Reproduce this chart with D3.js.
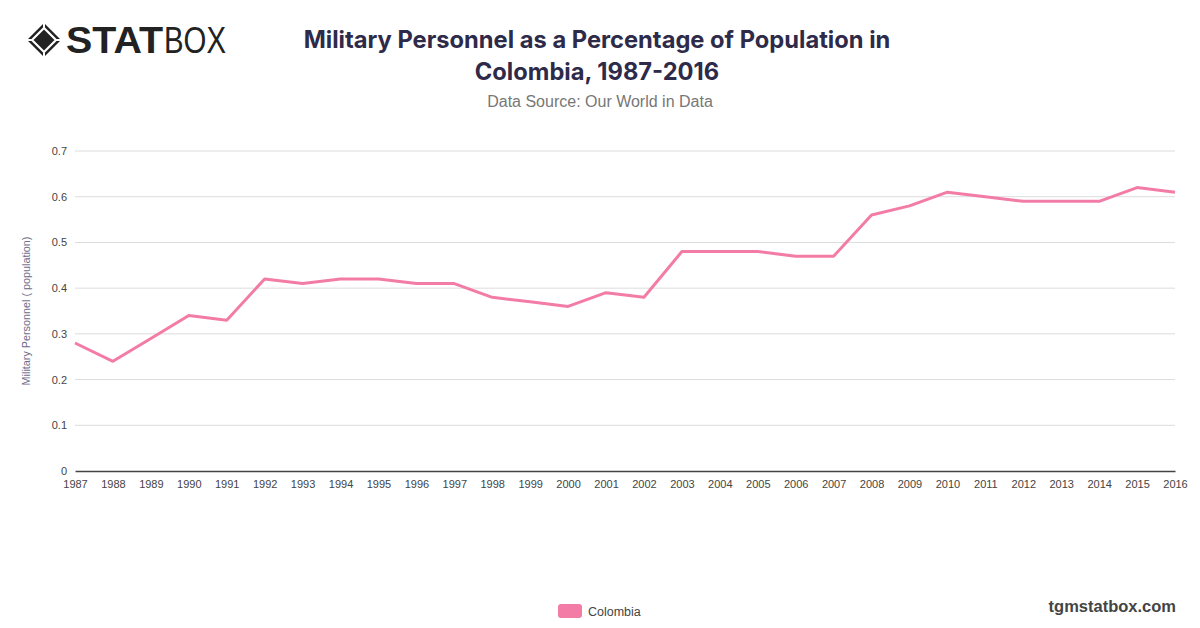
<!DOCTYPE html>
<html>
<head>
<meta charset="utf-8">
<script src="https://cdn.jsdelivr.net/npm/d3@7"></script>
<style>
  body { margin: 0; background: #fff; }
  svg { display: block; font-family: "Helvetica Neue", "Liberation Sans", Arial, sans-serif; }
</style>
</head>
<body>
<svg width="1200" height="628"></svg>
<script>
var years = [1987, 1988, 1989, 1990, 1991, 1992, 1993, 1994, 1995, 1996,
	1997, 1998, 1999, 2000, 2001, 2002, 2003, 2004, 2005, 2006,
	2007, 2008, 2009, 2010, 2011, 2012, 2013, 2014, 2015, 2016];

var colombia = [0.28, 0.24, 0.29, 0.34, 0.33, 0.42, 0.41, 0.42, 0.42, 0.41,
	0.41, 0.38, 0.37, 0.36, 0.39, 0.38, 0.48, 0.48, 0.48, 0.47,
	0.47, 0.56, 0.58, 0.61, 0.60, 0.59, 0.59, 0.59, 0.62, 0.61];

var yTicks = [0, 0.1, 0.2, 0.3, 0.4, 0.5, 0.6, 0.7];

var LINE_COLOR = "#f37ca6",
	PLOT = {left: 75, right: 1175, top: 151, bottom: 471};

var svg = d3.select("svg");

var x = d3.scalePoint()
	.domain(years)
	.range([PLOT.left, PLOT.right]);

var y = d3.scaleLinear()
	.domain([0, 0.7])
	.range([PLOT.bottom, PLOT.top]);

//////////// Logo

var logo = svg.append("g").attr("transform", "translate(44,40)");
logo.append("path")
	.attr("d", "M0,-17 L17,0 L0,17 L-17,0 Z")
	.attr("fill", "#222");
logo.append("path")
	.attr("d", "M0,-12 L12,0 L0,12 L-12,0 Z")
	.attr("fill", "none")
	.attr("stroke", "#fff")
	.attr("stroke-width", 2.2);
logo.append("path")
	.attr("d", "M-12,0 L-17,0 M12,0 L17,0 M0,-12 L0,-17 M0,12 L0,17")
	.attr("stroke", "#fff")
	.attr("stroke-width", 2);

svg.append("text")
	.attr("x", 66).attr("y", 53)
	.attr("font-size", 36)
	.attr("font-weight", 900)
	.attr("fill", "#222")
	.attr("textLength", 97)
	.attr("lengthAdjust", "spacingAndGlyphs")
	.text("STAT");
svg.append("text")
	.attr("x", 164).attr("y", 53)
	.attr("font-size", 36)
	.attr("font-weight", 300)
	.attr("fill", "#222")
	.attr("textLength", 62)
	.attr("lengthAdjust", "spacingAndGlyphs")
	.text("BOX");

//////////// Titles

svg.append("text")
	.attr("x", 597).attr("y", 48)
	.attr("text-anchor", "middle")
	.attr("font-family", "Inter, sans-serif")
	.attr("font-size", 23.7)
	.attr("font-weight", 700)
	.attr("fill", "#2e2b4a")
	.text("Military Personnel as a Percentage of Population in");
svg.append("text")
	.attr("x", 597).attr("y", 80)
	.attr("text-anchor", "middle")
	.attr("font-family", "Inter, sans-serif")
	.attr("font-size", 23.7)
	.attr("font-weight", 700)
	.attr("fill", "#2e2b4a")
	.text("Colombia, 1987-2016");
svg.append("text")
	.attr("x", 600).attr("y", 107)
	.attr("text-anchor", "middle")
	.attr("font-size", 16)
	.attr("fill", "#777")
	.text("Data Source: Our World in Data");

//////////// Grid and axes

svg.append("g")
	.selectAll("line")
	.data(yTicks.slice(1))
  .enter().append("line")
	.attr("x1", PLOT.left).attr("x2", PLOT.right)
	.attr("y1", function(d) {return y(d);})
	.attr("y2", function(d) {return y(d);})
	.attr("stroke", "#dcdcdc")
	.attr("stroke-width", 1);

var yAxis = svg.append("g")
	.attr("transform", "translate(" + PLOT.left + ",0)")
	.call(d3.axisLeft(y).tickValues(yTicks).tickSize(0).tickPadding(8).tickFormat(d3.format("")));
yAxis.select(".domain").remove();
yAxis.selectAll("text")
	.attr("font-size", 11)
	.attr("fill", "#444");

var xAxis = svg.append("g")
	.attr("transform", "translate(0," + PLOT.bottom + ")")
	.call(d3.axisBottom(x).tickSize(0).tickPadding(9).tickFormat(d3.format("d")));
xAxis.select(".domain")
	.attr("stroke", "#444")
	.attr("stroke-width", 1.5);
xAxis.selectAll("text")
	.attr("font-size", 11)
	.attr("fill", "#444");

svg.append("text")
	.attr("transform", "translate(30," + ((PLOT.top + PLOT.bottom) / 2) + ") rotate(-90)")
	.attr("text-anchor", "middle")
	.attr("font-size", 10.8)
	.attr("fill", "#6e6c8a")
	.text("Military Personnel ( population)");

//////////// Line

var line = d3.line()
	.x(function(d, i) {return x(years[i]);})
	.y(function(d) {return y(d);});

svg.append("path")
	.datum(colombia)
	.attr("d", line)
	.attr("fill", "none")
	.attr("stroke", LINE_COLOR)
	.attr("stroke-width", 3)
	.attr("stroke-linejoin", "round");

//////////// Legend and footer

svg.append("rect")
	.attr("x", 558).attr("y", 604)
	.attr("width", 24).attr("height", 14)
	.attr("rx", 3)
	.attr("fill", LINE_COLOR);
svg.append("text")
	.attr("x", 588).attr("y", 616)
	.attr("font-size", 12.5)
	.attr("fill", "#444")
	.text("Colombia");

svg.append("text")
	.attr("x", 1176).attr("y", 612)
	.attr("text-anchor", "end")
	.attr("font-size", 16.5)
	.attr("font-weight", 700)
	.attr("fill", "#444")
	.text("tgmstatbox.com");
</script>
</body>
</html>
